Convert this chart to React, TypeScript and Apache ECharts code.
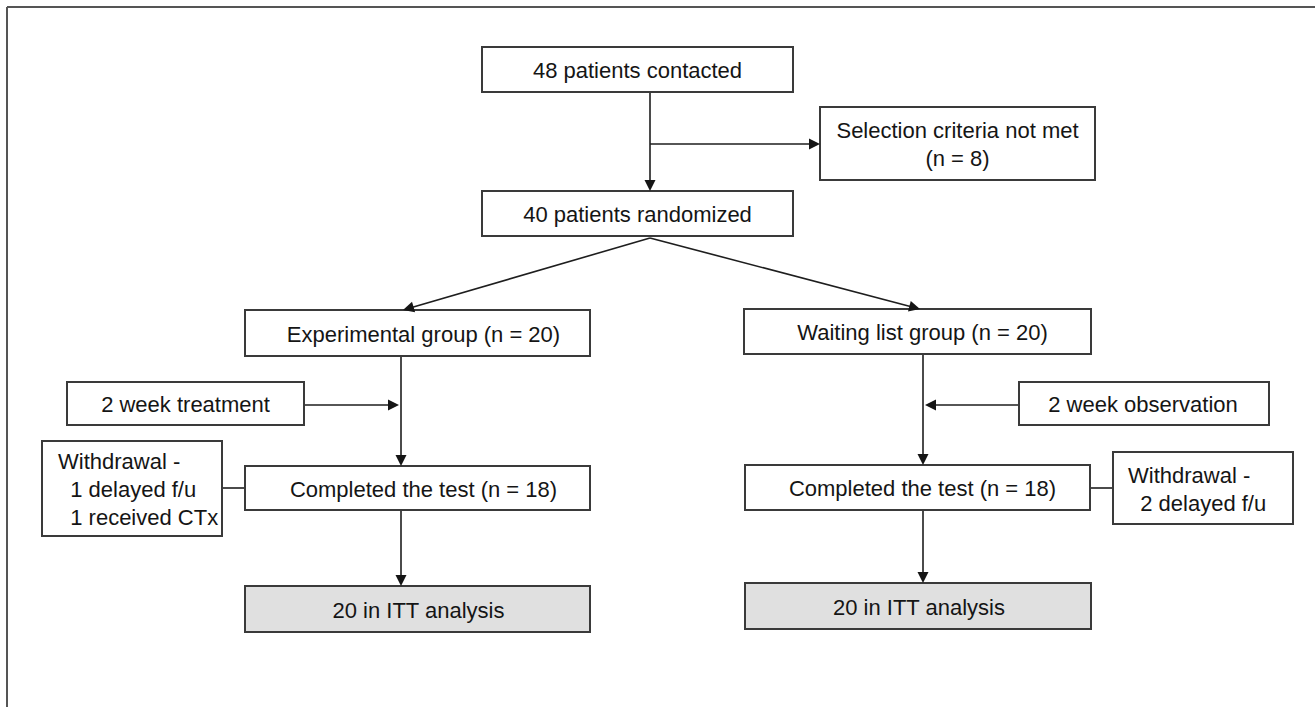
import React, { useEffect, useRef } from "react";
import * as echarts from "echarts";

// ---- content (texts) ----
const boxLabels: string[][] = [
  ["48 patients contacted"],
  ["Selection criteria not met", "(n = 8)"],
  ["40 patients randomized"],
  ["Experimental group (n = 20)"],
  ["Waiting list group (n = 20)"],
  ["2 week treatment"],
  ["2 week observation"],
  ["Withdrawal -", "  1 delayed f/u", "  1 received CTx"],
  ["Completed the test (n = 18)"],
  ["Completed the test (n = 18)"],
  ["Withdrawal -", "  2 delayed f/u"],
  ["20 in ITT analysis"],
  ["20 in ITT analysis"],
];
const boxShaded: boolean[] = [false, false, false, false, false, false, false, false, false, false, false, true, true];

// ---- layout (pixel positions) ----
// [x, y, w, h, textDx, align]  align: "c" centered, "l" left-aligned lines
const boxLayout: [number, number, number, number, number, string][] = [
  [482, 47, 311, 45, 0, "c"],
  [820, 107, 275, 73, 0, "c"],
  [482, 191, 311, 45, 0, "c"],
  [245, 310, 345, 46, 6, "c"],
  [744, 309, 347, 45, 5, "c"],
  [67, 382, 237, 43, 0, "c"],
  [1019, 382, 250, 43, -1, "c"],
  [42, 441, 180, 95, 0, "l"],
  [245, 466, 345, 44, 6, "c"],
  [745, 465, 345, 45, 5, "c"],
  [1113, 452, 180, 72, 0, "l"],
  [245, 586, 345, 46, 1, "c"],
  [745, 583, 346, 46, 1, "c"],
];
const leftTextX: Record<number, number> = { 7: 58, 10: 1128 };

// arrows: [x1, y1, x2, y2, hasHead]
const arrows: [number, number, number, number, boolean][] = [
  [650, 92, 650, 191, true],
  [650, 144, 820, 144, true],
  [650, 238, 403, 310, true],
  [650, 238, 920, 309, true],
  [401, 356, 401, 466, true],
  [304, 405, 399, 405, true],
  [401, 510, 401, 586, true],
  [222, 488, 245, 488, false],
  [923, 354, 923, 465, true],
  [1019, 405, 925, 405, true],
  [923, 510, 923, 583, true],
  [1090, 488, 1113, 488, false],
];

const FONT = '"Liberation Sans", Arial, Helvetica, sans-serif';
const FONT_SIZE = 22;
const LINE_H = 28;

function arrowHead(x1: number, y1: number, x2: number, y2: number, len = 11, hw = 5.5) {
  const dx = x2 - x1, dy = y2 - y1;
  const d = Math.hypot(dx, dy);
  const ux = dx / d, uy = dy / d;
  const bx = x2 - ux * len, by = y2 - uy * len;
  return {
    type: "polygon",
    silent: true,
    shape: { points: [[x2, y2], [bx - uy * hw, by + ux * hw], [bx + uy * hw, by - ux * hw]] },
    style: { fill: "#151515" },
    z: 20,
  };
}

function textEl(x: number, y: number, text: string, align: string) {
  return {
    type: "text",
    silent: true,
    x,
    y,
    z: 30,
    style: {
      text,
      fill: "#151515",
      fontSize: FONT_SIZE,
      fontFamily: FONT,
      align,
      verticalAlign: "middle",
      textAlign: align,
      textVerticalAlign: "middle",
    },
  };
}

function buildElements() {
  const els: any[] = [];
  // outer frame (top and left edges)
  els.push({ type: "line", silent: true, shape: { x1: 7, y1: 7, x2: 1315, y2: 7 }, style: { stroke: "#555", lineWidth: 2 } });
  els.push({ type: "line", silent: true, shape: { x1: 7, y1: 7, x2: 7, y2: 707 }, style: { stroke: "#555", lineWidth: 2 } });

  arrows.forEach(([x1, y1, x2, y2, head]) => {
    let ex = x2, ey = y2;
    if (head) {
      const d = Math.hypot(x2 - x1, y2 - y1);
      ex = x2 - ((x2 - x1) / d) * 9;
      ey = y2 - ((y2 - y1) / d) * 9;
    }
    els.push({ type: "line", silent: true, z: 10, shape: { x1, y1, x2: ex, y2: ey }, style: { stroke: "#1e1e1e", lineWidth: 1.6 } });
    if (head) els.push(arrowHead(x1, y1, x2, y2));
  });

  boxLayout.forEach(([x, y, w, h, dx, align], i) => {
    els.push({
      type: "rect",
      silent: true,
      z: 15,
      shape: { x, y, width: w, height: h },
      style: { fill: boxShaded[i] ? "#e0e0e0" : "#ffffff", stroke: "#3a3a3a", lineWidth: 2 },
    });
    const lines = boxLabels[i];
    const cy = y + h / 2 + 1;
    const startY = cy - ((lines.length - 1) * LINE_H) / 2;
    lines.forEach((t, k) => {
      if (align === "l") {
        els.push(textEl(leftTextX[i], startY + k * LINE_H, t, "left"));
      } else {
        els.push(textEl(x + w / 2 + dx, startY + k * LINE_H, t, "center"));
      }
    });
  });
  return els;
}

export default function App() {
  const ref = useRef<HTMLDivElement>(null);
  useEffect(() => {
    if (!ref.current) return;
    const chart = echarts.init(ref.current, undefined, { renderer: "svg" });
    chart.setOption({
      animation: false,
      backgroundColor: "#ffffff",
      graphic: { elements: buildElements() },
    });
    return () => chart.dispose();
  }, []);
  return (
    <div
      ref={ref}
      style={{ position: "fixed", left: 0, top: 0, width: 1315, height: 707, background: "#fff" }}
    />
  );
}
